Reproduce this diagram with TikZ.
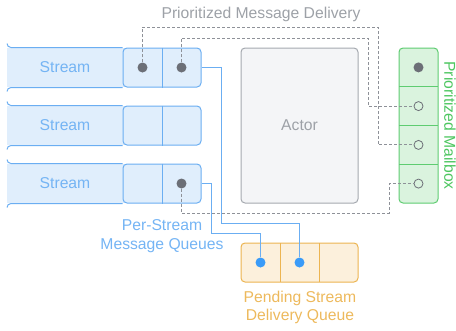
\documentclass[tikz,border=0pt]{standalone}
\usepackage{fontspec}
\setmainfont{Liberation Sans}
\definecolor{sfill}{HTML}{E0EEFC}
\definecolor{sline}{HTML}{6BAEF2}
\definecolor{stext}{HTML}{74B4F4}
\definecolor{dotgray}{HTML}{6C6F77}
\definecolor{dashgray}{HTML}{8E9198}
\definecolor{afill}{HTML}{F4F5F7}
\definecolor{aline}{HTML}{A5A9AF}
\definecolor{atext}{HTML}{9DA1A7}
\definecolor{mfill}{HTML}{DAF3DE}
\definecolor{mline}{HTML}{5ECC71}
\definecolor{mtext}{HTML}{4DC660}
\definecolor{pfill}{HTML}{FCF0DC}
\definecolor{pline}{HTML}{ECB451}
\definecolor{ptext}{HTML}{EDB95C}
\definecolor{pdot}{HTML}{3A9BF8}
\tikzset{
  lbl/.style={font=\fontsize{15.7}{18.5}\selectfont, align=center, inner sep=0pt},
  box/.style={rounded corners=4pt, line width=1pt, inner sep=0pt},
  queue/.style={box, draw=sline, fill=sfill, minimum width=78pt, minimum height=39pt},
  dot/.style={circle, fill=dotgray, inner sep=0pt, minimum size=10pt},
  hole/.style={circle, draw=dotgray, fill=mfill, line width=0.8pt, inner sep=0pt, minimum size=9pt},
  bluedot/.style={circle, fill=pdot, inner sep=0pt, minimum size=10pt},
  prio/.style={draw=dashgray, line width=1pt, dash pattern=on 3pt off 2pt},
  pend/.style={draw=sline, line width=1pt}
}
\begin{document}
\begin{tikzpicture}[x=1pt,y=-1pt]
  \useasboundingbox (0,0) rectangle (456,330);

  \foreach \y/\n in {67.5/1,125.5/2,183.5/3} {
    \fill[sfill] (7,\y-19.5) rectangle (130,\y+19.5);
    \node[queue] (q\n) at (162,\y) {};
    \draw[pend] (q\n.north) -- (q\n.south);
    \draw[pend, rounded corners=4pt] (7,\y-24) |- (q\n.north west);
    \draw[pend, rounded corners=4pt] (7,\y+24) |- (q\n.south west);
    \node[lbl, text=stext] (s\n) at (65,\y) {Stream};
  }
  \node[dot] (d1a) at (142.5,67.5) {};
  \node[dot] (d1b) at (181.5,67.5) {};
  \node[dot] (d3b) at (181.5,183.5) {};

  \node[box, draw=aline, fill=afill, minimum width=117pt, minimum height=155pt] (act) at (299.5,125.5) {};
  \node[lbl, text=atext] at (act) {Actor};

  \node[box, draw=mline, fill=mfill, minimum width=39pt, minimum height=155pt] (mb) at (418.5,125.5) {};
  \foreach \y in {86.75,125.5,164.25}
    \draw[mline, line width=1pt] (399,\y) -- (438,\y);
  \node[dot] (m1) at (418.5,67.4) {};
  \node[hole] (m2) at (418.5,106.1) {};
  \node[hole] (m3) at (418.5,144.9) {};
  \node[hole] (m4) at (418.5,183.6) {};
  \node[lbl, text=mtext, rotate=-90] (mlabel) at (450,125.5) {Prioritized Mailbox};

  \node[box, draw=pline, fill=pfill, minimum width=117pt, minimum height=39pt] (pq) at (299.5,262.5) {};
  \draw[pline, line width=1pt] (280.5,243) -- (280.5,282) (319.5,243) -- (319.5,282);
  \node[bluedot] (p1) at (260.5,262.5) {};
  \node[bluedot] (p2) at (299.5,262.5) {};

  \node[lbl, text=atext] (title) at (261,14) {Prioritized Message Delivery};
  \node[lbl, text=stext] (perstream) at (162,236) {Per-Stream\\Message Queues};
  \node[lbl, text=ptext] (pending) at (300,307.5) {Pending Stream\\Delivery Queue};

  \draw[pend] (q1) -| (221,223) -| (p2);
  \draw[pend] (q3) -| (211,233) -| (p1);

  \draw[prio] (d1a) |- (378,27) |- (m3);
  \draw[prio] (d1b) |- (368,38) |- (m2);
  \draw[prio] (d3b) |- (389,213) |- (m4);
\end{tikzpicture}
\end{document}
